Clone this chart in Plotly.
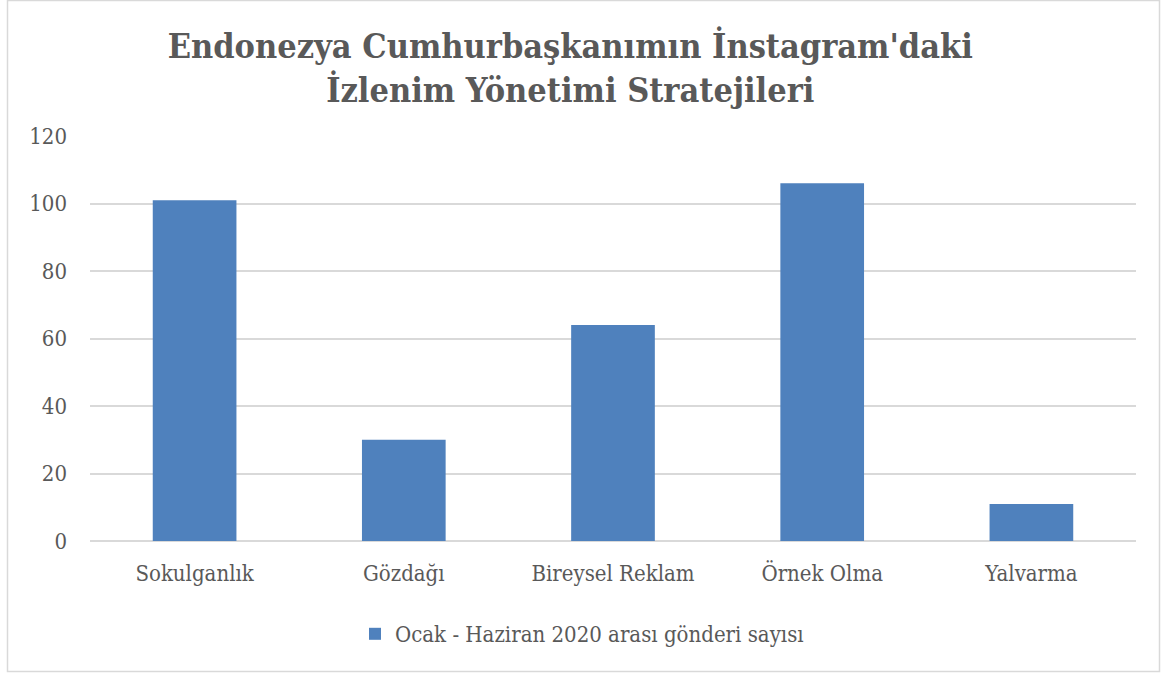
import plotly.graph_objects as go

categories = ["Sokulganlık", "Gözdağı", "Bireysel Reklam", "Örnek Olma", "Yalvarma"]
values = [101, 30, 64, 106, 11]
series_name = "Ocak - Haziran 2020 arası gönderi sayısı"
title_text = "Endonezya Cumhurbaşkanımın İnstagram'daki<br>İzlenim Yönetimi Stratejileri"
y_ticks = [0, 20, 40, 60, 80, 100, 120]

W, H = 1171, 673
L, R, T, B = 90, 35, 136, 132
FONT = "DejaVu Serif Condensed"
GREY = "#595959"

fig = go.Figure()
fig.add_trace(go.Bar(
    x=categories, y=values, name=series_name,
    marker=dict(color="#4F81BD", line=dict(width=0)),
    width=0.4, showlegend=True,
))

pw = W - L - R
ph = H - T - B
def px_x(p):
    return (p - L) / pw
def px_y(p):
    return (H - B - p) / ph

fig.add_shape(type="rect", xref="paper", yref="paper",
              x0=px_x(7.5), x1=px_x(1159.5), y0=px_y(671.5), y1=px_y(0.5),
              line=dict(color="#d9d9d9", width=1.5), fillcolor="rgba(0,0,0,0)", layer="below")

fig.update_layout(
    width=W, height=H,
    margin=dict(l=L, r=R, t=T, b=B, pad=0),
    paper_bgcolor="white", plot_bgcolor="white",
    font=dict(family=FONT, size=22, color=GREY),
    title=dict(text=title_text, x=0.487, xanchor="center", y=0.9134, yanchor="middle",
               font=dict(family=FONT, size=34, color=GREY, weight="bold")),
    bargap=0.6,
    xaxis=dict(showgrid=False, showline=False, ticks="", tickfont=dict(size=22, color=GREY),
               ticklabelstandoff=17),
    yaxis=dict(range=[0, 120], tickvals=y_ticks, showgrid=True, gridcolor="#d9d9d9", gridwidth=1.5,
               zeroline=True, zerolinecolor="#d9d9d9", zerolinewidth=1.5,
               showline=False, ticks="", tickfont=dict(size=22, color=GREY), ticklabelstandoff=22),
    legend=dict(orientation="h", x=px_x(355), xanchor="left", y=px_y(634), yanchor="middle",
                font=dict(size=22, color=GREY), itemwidth=30),
)

fig.write_html("out.html")
